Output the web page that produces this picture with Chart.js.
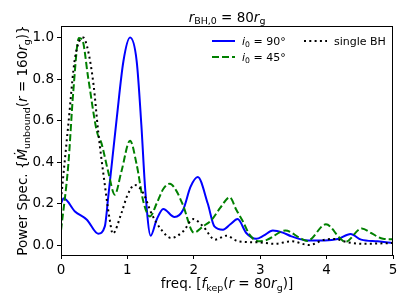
<!DOCTYPE html>
<html>
<head>
<meta charset="utf-8">
<script src="https://cdn.jsdelivr.net/npm/chart.js@4/dist/chart.umd.min.js"></script>
<style>
 html,body{margin:0;padding:0;background:#fff;}
 canvas{display:block;}
</style>
</head>
<body>
<canvas id="chart" width="407" height="305"></canvas>
<script>
/* ===== data ===== */
const blueX=[0,0.04,0.21,0.39,0.56,0.66,0.71,0.84,0.94,1.04,1.14,1.21,1.27,1.35,1.44,1.54,1.71,1.84,1.95,2.06,2.21,2.31,2.44,2.55,2.66,2.79,2.94,3.05,3.19,3.34,3.47,3.72,3.97,4.17,4.36,4.52,4.77,5.0];
const blueY=[0.20,0.225,0.162,0.122,0.055,0.09,0.227,0.613,0.886,1.0,0.886,0.58,0.26,0.045,0.122,0.174,0.135,0.17,0.28,0.328,0.2,0.09,0.074,0.1,0.125,0.058,0.03,0.045,0.07,0.06,0.042,0.022,0.022,0.029,0.053,0.026,0.018,0.01];

const greenX=[0,0.11,0.185,0.27,0.32,0.41,0.54,0.61,0.71,0.81,0.91,1.04,1.14,1.24,1.34,1.44,1.54,1.64,1.74,1.84,2.0,2.14,2.27,2.4,2.54,2.64,2.74,2.84,2.97,3.1,3.38,3.6,3.71,3.99,4.2,4.28,4.53,4.67,4.85,5.0];
const greenY=[0.07,0.387,0.74,0.998,0.99,0.805,0.548,0.49,0.355,0.243,0.355,0.503,0.387,0.21,0.138,0.2,0.27,0.296,0.26,0.19,0.06,0.09,0.122,0.18,0.23,0.17,0.114,0.05,0.018,0.025,0.07,0.034,0.02,0.1,0.034,0.015,0.08,0.058,0.03,0.028];

const blackX=[0,0.11,0.21,0.335,0.41,0.49,0.56,0.66,0.73,0.78,0.91,1.0,1.11,1.24,1.36,1.51,1.66,1.84,1.99,2.14,2.32,2.49,2.67,2.97,3.22,3.47,3.74,3.97,4.12,4.32,4.57,5.0];
const blackY=[0.22,0.58,0.9,1.0,0.934,0.773,0.548,0.29,0.13,0.055,0.154,0.24,0.29,0.25,0.154,0.074,0.034,0.066,0.125,0.09,0.026,0.045,0.018,0.013,0.006,0.018,0.0,0.026,0.029,0.013,0.006,0.01];

const xTicks=[0,1,2,3,4,5];
const yTicks=[0,0.2,0.4,0.6,0.8,1.0];

/* ===== rich text (mathtext-ish) ===== */
const FAM="'DejaVu Sans'";
function segFont(s,size){
 const sz=s.s?size*0.7:size;
 return (s.i?"italic ":"")+sz+"px "+FAM;
}
function richWidth(ctx,segs,size){
 let w=0;
 segs.forEach(s=>{ctx.font=segFont(s,size);w+=ctx.measureText(s.t).width;});
 return w;
}
function drawRich(ctx,segs,x,y,size,align){
 let cx=align==="left"?x:x-richWidth(ctx,segs,size)/2;
 ctx.textBaseline="alphabetic";
 ctx.textAlign="left";
 ctx.fillStyle="#000";
 segs.forEach(s=>{
  ctx.font=segFont(s,size);
  ctx.fillText(s.t,cx,y+(s.s?size*0.2:0));
  cx+=ctx.measureText(s.t).width;
 });
}

const titleSegs=[{t:"r",i:1},{t:"BH,0",s:1},{t:" = 80"},{t:"r",i:1},{t:"g",s:1}];
const xlabSegs=[{t:"freq. ["},{t:"f",i:1},{t:"kep",s:1},{t:"("},{t:"r",i:1},{t:" = 80"},{t:"r",i:1},{t:"g",s:1},{t:")]"}];
const ylabSegs=[{t:"Power Spec. {"},{t:"Ṁ",i:1},{t:"unbound",s:1},{t:"("},{t:"r",i:1},{t:" = 160"},{t:"r",i:1},{t:"g",s:1},{t:")}"}];

const extras={
 id:"extras",
 afterDraw(c){
  const ctx=c.ctx, a=c.chartArea;
  ctx.save();
  // frame
  ctx.strokeStyle="#000";ctx.lineWidth=1;
  ctx.strokeRect(a.left+0.5,a.top+0.5,a.right-a.left-1,a.bottom-a.top);
  // labels
  drawRich(ctx,titleSegs,(a.left+a.right)/2,21.5,13.5);
  drawRich(ctx,xlabSegs,(a.left+a.right)/2,288,13.5);
  ctx.save();
  ctx.translate(27,(a.top+a.bottom)/2);
  ctx.rotate(-Math.PI/2);
  drawRich(ctx,ylabSegs,0,0,13.5);
  ctx.restore();
  // legend
  const items=[
   {ds:0,x:212,y:41,segs:[{t:"i",i:1},{t:"0",s:1},{t:" = 90°"}]},
   {ds:1,x:212,y:57,segs:[{t:"i",i:1},{t:"0",s:1},{t:" = 45°"}]},
   {ds:2,x:304,y:41,segs:[{t:"single BH"}]}
  ];
  items.forEach(it=>{
   const d=c.data.datasets[it.ds];
   ctx.beginPath();
   ctx.strokeStyle=d.borderColor;ctx.lineWidth=d.borderWidth;
   ctx.setLineDash(d.borderDash||[]);
   ctx.lineCap="butt";
   ctx.moveTo(it.x,it.y);ctx.lineTo(it.x+23,it.y);ctx.stroke();
   ctx.setLineDash([]);
   drawRich(ctx,it.segs,it.x+30,it.y+4,11,"left");
  });
  ctx.restore();
 }
};

const pts=(xs,ys)=>xs.map((x,i)=>({x,y:ys[i]}));

new Chart(document.getElementById("chart"),{
 type:"line",
 data:{datasets:[
  {label:"i0 = 90°",data:pts(blueX,blueY),borderColor:"#0000ff",borderWidth:2,order:3},
  {label:"i0 = 45°",data:pts(greenX,greenY),borderColor:"#008000",borderWidth:2,borderDash:[7,3],order:2},
  {label:"single BH",data:pts(blackX,blackY),borderColor:"#000000",borderWidth:2,borderDash:[2,3.3],order:1}
 ]},
 options:{
  responsive:false,
  animation:false,
  devicePixelRatio:1,
  layout:{padding:{left:0,top:26,right:14,bottom:0}},
  elements:{point:{radius:0},line:{cubicInterpolationMode:"monotone",fill:false}},
  plugins:{legend:{display:false},tooltip:{enabled:false},title:{display:false}},
  scales:{
   x:{
    type:"linear",min:0,max:5,
    afterBuildTicks:s=>{s.ticks=xTicks.map(v=>({value:v}));},
    afterFit:s=>{s.height=50;},
    grid:{drawOnChartArea:false,drawTicks:true,tickLength:4,color:"#000"},
    border:{display:false},
    ticks:{color:"#000",font:{family:"DejaVu Sans",size:13.5},padding:3,maxRotation:0,callback:v=>String(v)}
   },
   y:{
    type:"linear",min:-0.048,max:1.056,
    afterBuildTicks:s=>{s.ticks=yTicks.map(v=>({value:v}));},
    afterFit:s=>{s.width=61;},
    grid:{drawOnChartArea:false,drawTicks:true,tickLength:4,color:"#000"},
    border:{display:false},
    ticks:{color:"#000",font:{family:"DejaVu Sans",size:13.5},padding:3,callback:v=>v.toFixed(1)}
   }
  }
 },
 plugins:[extras]
});
</script>
</body>
</html>
